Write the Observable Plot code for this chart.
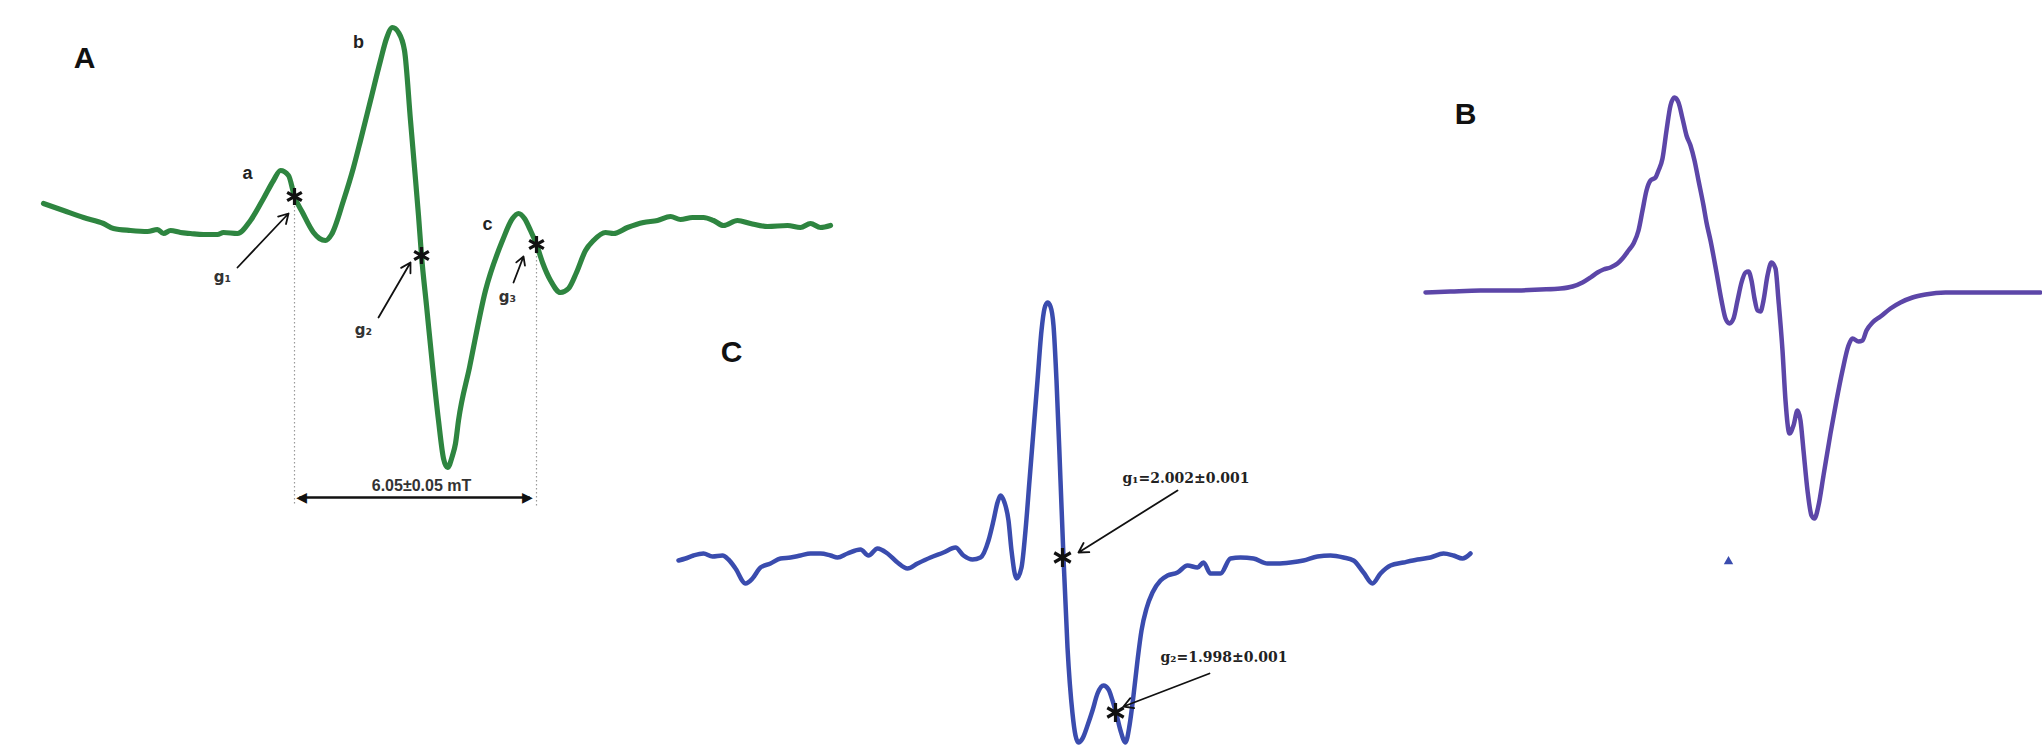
<!DOCTYPE html>
<html><head><meta charset="utf-8">
<script src="https://cdn.jsdelivr.net/npm/d3@7"></script>
<script src="https://cdn.jsdelivr.net/npm/@observablehq/plot@0.6"></script>
<style>
html,body{margin:0;padding:0;background:#fff;}
#fig{position:relative;width:2042px;height:747px;overflow:hidden;background:#fff;}
#fig svg{position:absolute;}
</style></head><body><div id="fig"></div>
<script>
// Panel A: field (mT, relative to g1) vs first-derivative EPR signal (a.u.)
const aTrace = [[-6.275,27],[-5.775,20],[-5.275,13],[-4.775,7],[-4.525,2],[-4.1,0],[-3.675,-1],[-3.425,1],[-3.275,-3],[-3.1,0],[-2.85,-2],[-2.6,-3],[-2.275,-4],[-1.925,-4],[-1.775,-2],[-1.425,-3],[-1.1,10],[-0.775,32],[-0.525,50],[-0.35,60],[-0.15,55],[0,34],[0.2,18],[0.475,-2],[0.625,-8],[0.775,-10],[0.925,-4],[1.225,30],[1.475,63],[1.65,90],[1.9,130],[2.15,170],[2.3,192],[2.45,203],[2.6,198],[2.75,180],[2.9,110],[3.0,63],[3.1,15],[3.175,-25],[3.3,-75],[3.45,-135],[3.6,-190],[3.725,-228],[3.825,-237],[3.95,-225],[4.025,-213],[4.1,-190],[4.375,-137],[4.775,-60],[5.2,-10],[5.45,12],[5.6,17],[5.75,12],[5.9,0],[6.05,-14],[6.2,-32],[6.4,-50],[6.65,-62],[6.85,-58],[7.05,-42],[7.275,-20],[7.475,-10],[7.775,-2],[7.975,-3],[8.325,3],[8.725,8],[9.075,10],[9.4,14],[9.65,11],[9.95,13],[10.225,13],[10.475,10],[10.725,5],[11.075,10],[11.4,7],[11.825,4],[12.325,5],[12.65,3],[12.9,7],[13.15,3],[13.4,5]];
const aPanel = [{x:-5.25, y:172, text:"A"}];
const aPeaks = [{x:-1.175,y:57,text:"a"},{x:1.6,y:188,text:"b"},{x:4.825,y:6,text:"c"}];
const aGLabels = [{x:-1.8,y:-47,text:"g₁"},{x:1.725,y:-100,text:"g₂"},{x:5.325,y:-67,text:"g₃"}];
const aStars = [{x:0,y:34},{x:3.175,y:-25},{x:6.05,y:-14}];
const aArrows = [{x1:-1.425,y1:-37,x2:-0.15,y2:17},{x1:2.1,y1:-87,x2:2.9,y2:-32},{x1:5.475,y1:-52,x2:5.725,y2:-26}];
const aDrops = [{x:0,top:28,bottom:-276},{x:6.05,top:-22,bottom:-276}];
const aSpan = {from:0.12, to:5.88, y:-267, label:"6.05±0.05 mT", labelX:3.175, labelY:-255};

// Panel C: field (a.u.) vs signal (a.u.)
const cTrace = [[-385,-3],[-378,-1],[-370,2],[-360,4],[-351,1],[-341,2],[-335,-2],[-328,-11],[-318,-26],[-311,-21],[-303,-10],[-293,-6],[-283,-1],[-273,0],[-263,2],[-253,4],[-243,4],[-233,2],[-226,0],[-216,4],[-203,8],[-195,2],[-186,9],[-176,4],[-166,-5],[-156,-11],[-146,-6],[-133,0],[-120,5],[-108,10],[-100,2],[-91,-2],[-83,0],[-75,17],[-70,37],[-66,55],[-63,62],[-59,55],[-55,37],[-52,7],[-47,-21],[-42,-10],[-38,27],[-34,77],[-30,127],[-26,177],[-22,227],[-19,249],[-16,255],[-13,251],[-10,232],[-7,177],[-3,77],[0,0],[4,-90],[9,-156],[12,-178],[15,-185],[19,-181],[24,-168],[29,-153],[34,-136],[40,-128],[45,-132],[49,-143],[53,-157],[57,-173],[62,-185],[66,-168],[70,-138],[74,-103],[78,-73],[83,-51],[89,-35],[97,-23],[104,-18],[114,-15],[124,-8],[134,-10],[140,-5],[147,-16],[157,-16],[167,-1],[177,0],[190,-1],[204,-6],[214,-6],[227,-5],[240,-3],[254,1],[267,2],[280,0],[290,-3],[300,-15],[309,-26],[317,-16],[327,-8],[340,-5],[354,-2],[367,0],[380,4],[390,2],[399,-1],[407,4]];
const cPanel = [{x:-332, y:205, text:"C"}];
const cGLabels = [{x:59,y:79,text:"g₁=2.002±0.001"},{x:97,y:-100,text:"g₂=1.998±0.001"}];
const cStars = [{x:-1,y:0},{x:52,y:-155}];
const cArrows = [{x1:114,y1:67,x2:15,y2:5},{x1:146,y1:-116,x2:60,y2:-149}];

// Panel B: field (a.u.) vs signal (a.u.)
const bTrace = [[-275,0],[-250,1],[-220,2],[-190,2],[-160,3],[-140,4],[-128,6],[-118,10],[-110,15],[-103,20],[-97,23],[-90,25],[-83,29],[-78,34],[-72,42],[-67,49],[-62,62],[-58,82],[-54,102],[-50,112],[-45,115],[-42,122],[-38,134],[-34,162],[-30,187],[-26,195],[-22,190],[-18,174],[-14,157],[-10,147],[-6,132],[-2,112],[3,87],[6,70],[10,52],[16,20],[21,-8],[25,-26],[29,-31],[33,-26],[37,-8],[41,10],[45,20],[48,21],[51,12],[54,-6],[57,-18],[60,-19],[63,-8],[67,17],[71,30],[75,24],[78,-8],[82,-58],[85,-108],[89,-141],[93,-133],[97,-118],[100,-128],[103,-158],[107,-198],[111,-223],[114,-226],[118,-213],[123,-183],[130,-141],[136,-108],[142,-78],[148,-53],[152,-46],[158,-49],[162,-48],[166,-38],[172,-30],[180,-24],[190,-16],[200,-10],[212,-5],[225,-2],[245,0],[270,0],[300,0],[340,0]];
const bPanel = [{x:-235, y:178, text:"B"}];
const bFragment = [{x:28, y:-269}];

const GREEN = "#2e8540", BLUE = "#3a4cae", PURPLE = "#5c46a8";
const SANS = "Liberation Sans, Arial, sans-serif";

function place(svg, left, top) {
  svg.style.left = left + "px";
  svg.style.top = top + "px";
  document.getElementById("fig").appendChild(svg);
}
const base = (w, h, xd, yd) => ({
  width: w, height: h, margin: 0,
  style: {background: "transparent", overflow: "visible"},
  x: {domain: xd, axis: null}, y: {domain: yd, axis: null}
});

// Panel A
const plotA = Plot.plot({
  ...base(860, 520, [-7.35, 14.15], [-290, 230]),
  marks: [
    Plot.ruleX(aDrops, {x: "x", y1: "top", y2: "bottom", stroke: "#9a9a9a", strokeWidth: 1.2, strokeDasharray: "1.5,2.5"}),
    Plot.line(aTrace, {x: d => d[0], y: d => d[1], stroke: GREEN, strokeWidth: 5.2, curve: "monotone-x", strokeLinejoin: "round"}),
    Plot.arrow(aArrows, {x1: "x1", y1: "y1", x2: "x2", y2: "y2", stroke: "#111", strokeWidth: 1.8, headLength: 9}),
    Plot.dot(aStars, {x: "x", y: "y", symbol: "asterisk", r: 8, stroke: "#111", strokeWidth: 3.2}),
    Plot.link([aSpan], {x1: "from", x2: "to", y1: "y", y2: "y", stroke: "#111", strokeWidth: 2.5}),
    Plot.text([aSpan], {x: "from", y: "y", text: () => "◀", fontSize: 14, fontFamily: "DejaVu Sans", fill: "#111", textAnchor: "start", dx: -3}),
    Plot.text([aSpan], {x: "to", y: "y", text: () => "▶", fontSize: 14, fontFamily: "DejaVu Sans", fill: "#111", textAnchor: "end", dx: 3}),
    Plot.text([aSpan], {x: "labelX", y: "labelY", text: "label", fontSize: 16, fontWeight: "bold", fontFamily: SANS, fill: "#333"}),
    Plot.text(aPanel, {x: "x", y: "y", text: "text", fontSize: 30, fontWeight: "bold", fontFamily: SANS, fill: "#111"}),
    Plot.text(aPeaks, {x: "x", y: "y", text: "text", fontSize: 18, fontWeight: "bold", fontFamily: SANS, fill: "#222"}),
    Plot.text(aGLabels, {x: "x", y: "y", text: "text", fontSize: 15, fontWeight: "bold", fontFamily: "DejaVu Sans, sans-serif", fill: "#333"})
  ]
});
place(plotA, 0, 0);

// Panel C
const plotC = Plot.plot({
  ...base(860, 467, [-423, 437], [-190, 277]),
  marks: [
    Plot.line(cTrace, {x: d => d[0], y: d => d[1], stroke: BLUE, strokeWidth: 4.5, curve: "monotone-x", strokeLinejoin: "round"}),
    Plot.arrow(cArrows, {x1: "x1", y1: "y1", x2: "x2", y2: "y2", stroke: "#111", strokeWidth: 1.8, headLength: 9}),
    Plot.dot(cStars, {x: "x", y: "y", symbol: "asterisk", r: 9, stroke: "#111", strokeWidth: 3.2}),
    Plot.text(cPanel, {x: "x", y: "y", text: "text", fontSize: 30, fontWeight: "bold", fontFamily: SANS, fill: "#111"}),
    Plot.text(cGLabels, {x: "x", y: "y", text: "text", textAnchor: "start", fontSize: 14, fontWeight: "bold", fontFamily: "DejaVu Serif, serif", fill: "#222"})
  ]
});
place(plotC, 640, 280);

// Panel B
const plotB = Plot.plot({
  ...base(662, 540, [-320, 342], [-288, 252]),
  marks: [
    Plot.line(bTrace, {x: d => d[0], y: d => d[1], stroke: PURPLE, strokeWidth: 4.5, curve: "monotone-x", strokeLinejoin: "round"}),
    Plot.dot(bFragment, {x: "x", y: "y", symbol: "triangle", r: 3.5, fill: BLUE}),
    Plot.text(bPanel, {x: "x", y: "y", text: "text", fontSize: 30, fontWeight: "bold", fontFamily: SANS, fill: "#111"})
  ]
});
place(plotB, 1380, 40);
</script></body></html>
